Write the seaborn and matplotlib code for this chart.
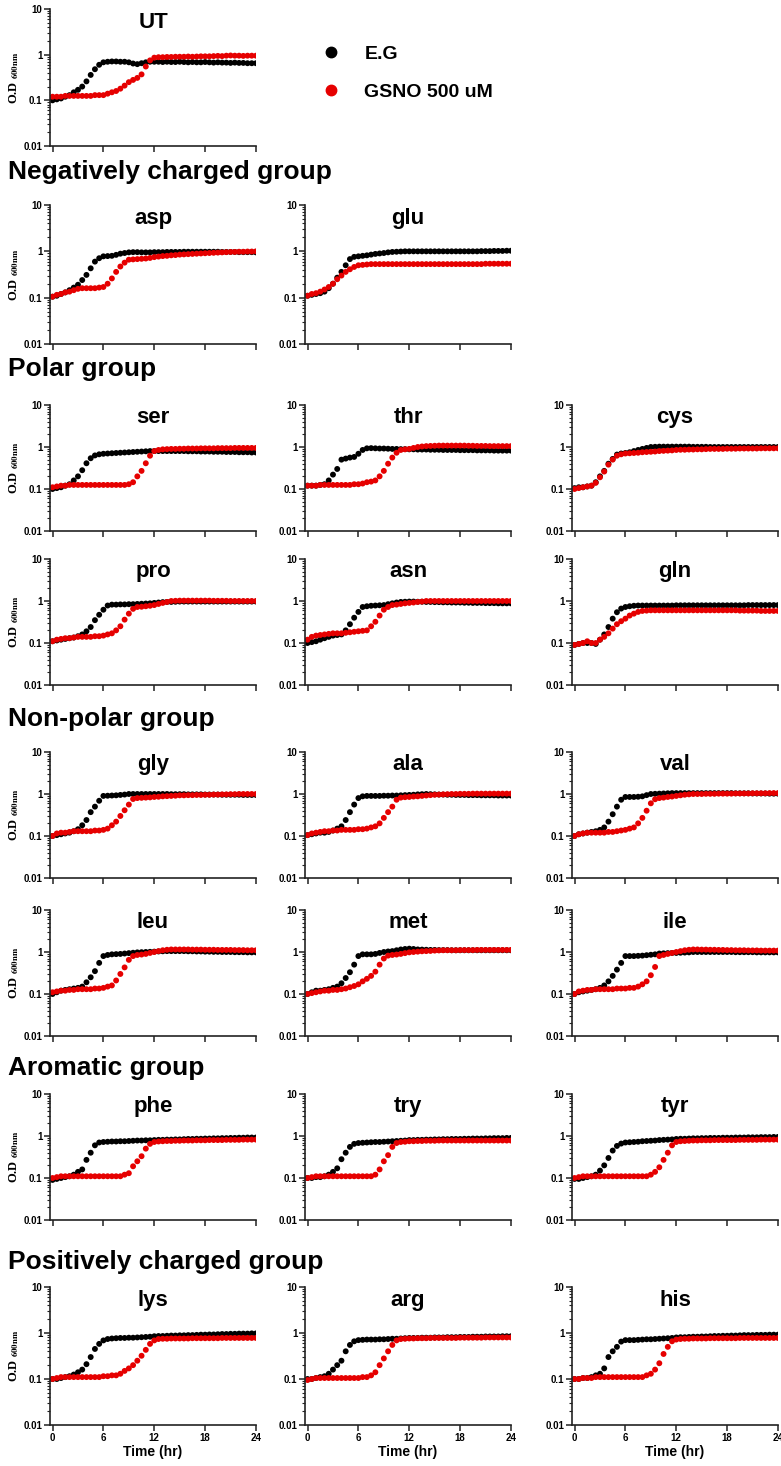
import numpy as np
import pandas as pd
import seaborn as sns
import matplotlib.pyplot as plt
from matplotlib.lines import Line2D

# OD600 readings every 30 min from 0 to 24 hr
time_hr = np.arange(0, 24.5, 0.5)

ut_eg = [0.10, 0.105, 0.11, 0.12, 0.13, 0.15, 0.17, 0.20, 0.26, 0.36, 0.48, 0.60,
         0.68, 0.70, 0.71, 0.71, 0.70, 0.70, 0.68, 0.64, 0.62, 0.65, 0.68, 0.70,
         0.70, 0.70, 0.69, 0.70, 0.69, 0.69, 0.70, 0.69, 0.68, 0.69, 0.68, 0.68,
         0.69, 0.68, 0.67, 0.68, 0.67, 0.67, 0.66, 0.67, 0.66, 0.66, 0.65, 0.65, 0.65]
ut_gsno = [0.12, 0.12, 0.12, 0.125, 0.125, 0.125, 0.125, 0.125, 0.125, 0.125, 0.13, 0.13,
           0.13, 0.14, 0.15, 0.16, 0.18, 0.21, 0.25, 0.28, 0.31, 0.37, 0.55, 0.75,
           0.86, 0.88, 0.88, 0.89, 0.89, 0.90, 0.90, 0.90, 0.91, 0.90, 0.91, 0.92,
           0.92, 0.92, 0.93, 0.94, 0.93, 0.95, 0.96, 0.95, 0.95, 0.94, 0.95, 0.95, 0.95]

asp_eg = [0.105, 0.11, 0.12, 0.13, 0.145, 0.165, 0.19, 0.24, 0.31, 0.43, 0.60, 0.71,
          0.78, 0.79, 0.80, 0.84, 0.89, 0.92, 0.95, 0.96, 0.96, 0.95, 0.95, 0.95,
          0.96, 0.96, 0.96, 0.97, 0.97, 0.97, 0.97, 0.98, 0.98, 0.98, 0.98, 0.98,
          0.98, 0.98, 0.98, 0.98, 0.97, 0.97, 0.97, 0.97, 0.96, 0.96, 0.96, 0.96, 0.95]
asp_gsno = [0.105, 0.115, 0.12, 0.13, 0.135, 0.145, 0.155, 0.16, 0.16, 0.16, 0.16, 0.165,
            0.17, 0.20, 0.26, 0.36, 0.47, 0.57, 0.66, 0.67, 0.68, 0.69, 0.70, 0.72,
            0.75, 0.77, 0.79, 0.80, 0.82, 0.83, 0.85, 0.86, 0.87, 0.88, 0.89, 0.90,
            0.91, 0.92, 0.93, 0.94, 0.95, 0.96, 0.97, 0.97, 0.98, 0.98, 0.99, 0.99, 1.0]

glu_eg = [0.11, 0.115, 0.12, 0.125, 0.135, 0.16, 0.20, 0.27, 0.36, 0.50, 0.68, 0.76,
          0.78, 0.80, 0.82, 0.85, 0.88, 0.90, 0.92, 0.95, 0.97, 0.98, 0.99, 1.0,
          1.0, 1.0, 1.0, 1.0, 1.0, 1.0, 1.0, 1.0, 1.0, 1.0, 1.0, 1.0,
          1.0, 1.0, 1.0, 1.0, 1.0, 1.01, 1.01, 1.01, 1.02, 1.02, 1.02, 1.03, 1.03]
glu_gsno = [0.11, 0.12, 0.125, 0.135, 0.15, 0.17, 0.20, 0.25, 0.30, 0.36, 0.41, 0.46,
            0.50, 0.51, 0.52, 0.53, 0.53, 0.53, 0.53, 0.53, 0.53, 0.53, 0.53, 0.53,
            0.53, 0.53, 0.53, 0.53, 0.53, 0.53, 0.53, 0.53, 0.53, 0.53, 0.53, 0.53,
            0.53, 0.53, 0.53, 0.53, 0.53, 0.53, 0.54, 0.54, 0.54, 0.54, 0.54, 0.54, 0.54]

ser_eg = [0.10, 0.105, 0.11, 0.12, 0.13, 0.16, 0.20, 0.28, 0.41, 0.54, 0.63, 0.67,
          0.69, 0.70, 0.71, 0.72, 0.73, 0.74, 0.75, 0.76, 0.77, 0.78, 0.79, 0.80,
          0.80, 0.80, 0.80, 0.80, 0.80, 0.80, 0.80, 0.80, 0.79, 0.79, 0.79, 0.78,
          0.78, 0.78, 0.77, 0.77, 0.77, 0.76, 0.76, 0.76, 0.75, 0.75, 0.75, 0.74, 0.74]
ser_gsno = [0.11, 0.115, 0.12, 0.12, 0.125, 0.125, 0.125, 0.125, 0.125, 0.125, 0.125, 0.125,
            0.125, 0.125, 0.125, 0.125, 0.125, 0.125, 0.13, 0.145, 0.20, 0.27, 0.41, 0.62,
            0.80, 0.85, 0.88, 0.89, 0.90, 0.90, 0.91, 0.91, 0.92, 0.92, 0.92, 0.93,
            0.93, 0.93, 0.93, 0.94, 0.94, 0.94, 0.94, 0.95, 0.95, 0.95, 0.95, 0.95, 0.95]

thr_eg = [0.12, 0.12, 0.12, 0.125, 0.13, 0.16, 0.22, 0.30, 0.50, 0.53, 0.56, 0.58,
          0.69, 0.85, 0.93, 0.94, 0.93, 0.92, 0.92, 0.91, 0.90, 0.90, 0.89, 0.89,
          0.88, 0.88, 0.87, 0.87, 0.87, 0.86, 0.86, 0.86, 0.85, 0.85, 0.85, 0.85,
          0.84, 0.84, 0.84, 0.84, 0.83, 0.83, 0.83, 0.83, 0.82, 0.82, 0.82, 0.82, 0.82]
thr_gsno = [0.12, 0.12, 0.12, 0.125, 0.125, 0.125, 0.125, 0.125, 0.125, 0.125, 0.125, 0.13,
            0.13, 0.135, 0.145, 0.15, 0.16, 0.20, 0.27, 0.40, 0.56, 0.73, 0.85, 0.88,
            0.90, 0.95, 1.0, 1.03, 1.05, 1.06, 1.07, 1.08, 1.08, 1.08, 1.08, 1.08,
            1.08, 1.08, 1.07, 1.07, 1.06, 1.06, 1.06, 1.05, 1.05, 1.05, 1.05, 1.05, 1.05]

cys_eg = [0.105, 0.11, 0.11, 0.115, 0.12, 0.145, 0.20, 0.27, 0.40, 0.52, 0.66, 0.70,
          0.72, 0.75, 0.80, 0.85, 0.90, 0.95, 1.0, 1.01, 1.02, 1.02, 1.02, 1.02,
          1.02, 1.02, 1.02, 1.02, 1.01, 1.01, 1.01, 1.01, 1.0, 1.0, 1.0, 1.0,
          1.0, 1.0, 1.0, 1.0, 1.0, 1.0, 1.0, 1.0, 1.0, 1.0, 1.0, 1.0, 1.0]
cys_gsno = [0.10, 0.105, 0.11, 0.115, 0.12, 0.14, 0.19, 0.26, 0.38, 0.50, 0.62, 0.67,
            0.70, 0.71, 0.72, 0.73, 0.75, 0.76, 0.77, 0.78, 0.80, 0.81, 0.82, 0.83,
            0.85, 0.86, 0.86, 0.87, 0.87, 0.88, 0.88, 0.89, 0.90, 0.90, 0.90, 0.90,
            0.91, 0.91, 0.91, 0.92, 0.92, 0.92, 0.92, 0.92, 0.93, 0.93, 0.93, 0.93, 0.93]

pro_eg = [0.11, 0.115, 0.12, 0.125, 0.13, 0.135, 0.145, 0.16, 0.19, 0.24, 0.35, 0.47,
          0.62, 0.78, 0.82, 0.82, 0.83, 0.83, 0.84, 0.84, 0.85, 0.86, 0.87, 0.88,
          0.90, 0.92, 0.94, 0.95, 0.95, 0.96, 0.97, 0.97, 0.97, 0.97, 0.97, 0.97,
          0.97, 0.97, 0.97, 0.97, 0.97, 0.97, 0.97, 0.97, 0.97, 0.97, 0.97, 0.97, 0.97]
pro_gsno = [0.11, 0.12, 0.125, 0.13, 0.13, 0.135, 0.14, 0.14, 0.14, 0.14, 0.145, 0.145,
            0.15, 0.16, 0.17, 0.20, 0.25, 0.36, 0.50, 0.65, 0.72, 0.73, 0.75, 0.77,
            0.80, 0.85, 0.90, 0.95, 1.0, 1.01, 1.02, 1.02, 1.02, 1.02, 1.02, 1.02,
            1.02, 1.02, 1.01, 1.01, 1.01, 1.01, 1.0, 1.0, 1.0, 1.0, 1.0, 1.0, 1.0]

asn_eg = [0.10, 0.105, 0.11, 0.12, 0.13, 0.14, 0.15, 0.155, 0.16, 0.20, 0.28, 0.40,
          0.55, 0.72, 0.75, 0.77, 0.78, 0.79, 0.80, 0.84, 0.88, 0.92, 0.95, 0.96,
          0.97, 0.97, 0.96, 0.96, 0.95, 0.95, 0.94, 0.94, 0.93, 0.93, 0.92, 0.92,
          0.92, 0.91, 0.91, 0.90, 0.90, 0.90, 0.89, 0.89, 0.89, 0.88, 0.88, 0.88, 0.88]
asn_gsno = [0.12, 0.14, 0.15, 0.155, 0.16, 0.165, 0.17, 0.17, 0.17, 0.175, 0.18, 0.185,
            0.19, 0.195, 0.20, 0.25, 0.32, 0.45, 0.62, 0.72, 0.80, 0.82, 0.85, 0.88,
            0.90, 0.92, 0.95, 0.97, 1.0, 1.0, 1.0, 1.0, 1.0, 1.0, 1.0, 1.0,
            1.0, 1.0, 1.0, 1.0, 1.0, 1.0, 1.0, 1.0, 1.0, 1.0, 1.0, 1.0, 1.0]

gln_eg = [0.09, 0.095, 0.10, 0.10, 0.10, 0.095, 0.12, 0.16, 0.24, 0.38, 0.54, 0.66,
          0.72, 0.75, 0.77, 0.78, 0.78, 0.78, 0.78, 0.78, 0.78, 0.78, 0.78, 0.78,
          0.79, 0.79, 0.79, 0.79, 0.79, 0.79, 0.79, 0.79, 0.79, 0.79, 0.79, 0.79,
          0.79, 0.79, 0.79, 0.79, 0.79, 0.80, 0.80, 0.80, 0.80, 0.80, 0.80, 0.80, 0.80]
gln_gsno = [0.09, 0.095, 0.10, 0.11, 0.10, 0.10, 0.12, 0.14, 0.17, 0.22, 0.28, 0.33,
            0.38, 0.45, 0.50, 0.55, 0.58, 0.59, 0.60, 0.60, 0.60, 0.60, 0.60, 0.60,
            0.60, 0.60, 0.60, 0.60, 0.60, 0.60, 0.60, 0.60, 0.60, 0.60, 0.60, 0.60,
            0.60, 0.60, 0.60, 0.59, 0.59, 0.59, 0.59, 0.59, 0.58, 0.58, 0.58, 0.58, 0.58]

gly_eg = [0.10, 0.105, 0.11, 0.115, 0.12, 0.13, 0.145, 0.18, 0.24, 0.37, 0.50, 0.69,
          0.90, 0.91, 0.92, 0.93, 0.95, 0.97, 1.0, 1.0, 1.0, 1.0, 1.0, 1.0,
          1.0, 1.0, 1.0, 1.0, 0.99, 0.99, 0.99, 0.99, 0.98, 0.98, 0.98, 0.98,
          0.97, 0.97, 0.97, 0.97, 0.96, 0.96, 0.96, 0.96, 0.96, 0.95, 0.95, 0.95, 0.95]
gly_gsno = [0.10, 0.115, 0.12, 0.12, 0.125, 0.13, 0.13, 0.13, 0.13, 0.13, 0.135, 0.135,
            0.14, 0.15, 0.18, 0.22, 0.30, 0.41, 0.56, 0.76, 0.80, 0.81, 0.82, 0.83,
            0.85, 0.86, 0.88, 0.89, 0.90, 0.91, 0.93, 0.93, 0.94, 0.94, 0.95, 0.95,
            0.96, 0.96, 0.97, 0.97, 0.98, 0.98, 0.99, 0.99, 1.0, 1.0, 1.0, 1.0, 1.0]

ala_eg = [0.105, 0.11, 0.115, 0.12, 0.12, 0.125, 0.135, 0.15, 0.17, 0.24, 0.37, 0.56,
          0.80, 0.88, 0.90, 0.90, 0.90, 0.90, 0.91, 0.91, 0.92, 0.92, 0.93, 0.94,
          0.95, 0.96, 0.98, 0.99, 1.0, 0.99, 0.98, 0.97, 0.97, 0.96, 0.96, 0.95,
          0.95, 0.95, 0.94, 0.94, 0.94, 0.93, 0.93, 0.93, 0.93, 0.92, 0.92, 0.92, 0.92]
ala_gsno = [0.105, 0.115, 0.12, 0.125, 0.13, 0.13, 0.135, 0.135, 0.14, 0.14, 0.14, 0.14,
            0.145, 0.145, 0.15, 0.16, 0.17, 0.20, 0.27, 0.37, 0.50, 0.73, 0.82, 0.84,
            0.85, 0.87, 0.88, 0.90, 0.92, 0.94, 0.96, 0.97, 0.98, 0.99, 1.0, 1.0,
            1.01, 1.01, 1.01, 1.02, 1.02, 1.02, 1.02, 1.02, 1.02, 1.02, 1.02, 1.02, 1.02]

val_eg = [0.10, 0.11, 0.115, 0.12, 0.125, 0.13, 0.14, 0.16, 0.22, 0.33, 0.50, 0.73,
          0.85, 0.85, 0.85, 0.86, 0.88, 0.94, 1.0, 1.01, 1.02, 1.03, 1.04, 1.05,
          1.05, 1.05, 1.05, 1.05, 1.05, 1.05, 1.05, 1.05, 1.05, 1.05, 1.05, 1.05,
          1.05, 1.05, 1.04, 1.04, 1.04, 1.04, 1.03, 1.03, 1.03, 1.03, 1.02, 1.02, 1.02]
val_gsno = [0.10, 0.11, 0.115, 0.12, 0.12, 0.12, 0.12, 0.12, 0.125, 0.125, 0.13, 0.135,
            0.14, 0.15, 0.16, 0.20, 0.27, 0.40, 0.60, 0.75, 0.80, 0.82, 0.85, 0.87,
            0.90, 0.93, 0.96, 0.98, 1.0, 1.0, 1.0, 1.01, 1.01, 1.01, 1.02, 1.02,
            1.02, 1.02, 1.03, 1.03, 1.03, 1.03, 1.04, 1.04, 1.04, 1.04, 1.05, 1.05, 1.05]

leu_eg = [0.10, 0.11, 0.12, 0.125, 0.13, 0.135, 0.14, 0.15, 0.19, 0.25, 0.35, 0.55,
          0.80, 0.85, 0.88, 0.89, 0.90, 0.92, 0.94, 0.96, 0.98, 0.99, 1.0, 1.01,
          1.02, 1.03, 1.04, 1.05, 1.05, 1.05, 1.05, 1.05, 1.04, 1.04, 1.03, 1.03,
          1.02, 1.02, 1.01, 1.01, 1.0, 1.0, 1.0, 0.99, 0.99, 0.99, 0.98, 0.98, 0.98]
leu_gsno = [0.11, 0.115, 0.12, 0.12, 0.125, 0.125, 0.13, 0.13, 0.13, 0.13, 0.135, 0.135,
            0.14, 0.15, 0.16, 0.21, 0.30, 0.43, 0.65, 0.80, 0.85, 0.87, 0.90, 0.95,
            1.0, 1.05, 1.10, 1.13, 1.15, 1.15, 1.15, 1.15, 1.15, 1.14, 1.14, 1.14,
            1.13, 1.13, 1.13, 1.12, 1.12, 1.12, 1.12, 1.11, 1.11, 1.11, 1.10, 1.10, 1.10]

met_eg = [0.10, 0.11, 0.12, 0.12, 0.125, 0.13, 0.14, 0.15, 0.18, 0.24, 0.33, 0.50,
          0.80, 0.88, 0.88, 0.88, 0.90, 0.95, 1.0, 1.03, 1.05, 1.10, 1.15, 1.18,
          1.20, 1.18, 1.15, 1.14, 1.13, 1.12, 1.12, 1.11, 1.11, 1.11, 1.10, 1.10,
          1.10, 1.10, 1.10, 1.10, 1.10, 1.10, 1.10, 1.10, 1.10, 1.10, 1.10, 1.10, 1.10]
met_gsno = [0.10, 0.105, 0.11, 0.115, 0.12, 0.12, 0.125, 0.125, 0.13, 0.135, 0.145, 0.155,
            0.17, 0.20, 0.23, 0.27, 0.34, 0.50, 0.70, 0.82, 0.85, 0.87, 0.90, 0.94,
            0.98, 1.0, 1.02, 1.04, 1.05, 1.06, 1.08, 1.09, 1.10, 1.10, 1.10, 1.10,
            1.11, 1.11, 1.11, 1.11, 1.12, 1.12, 1.12, 1.12, 1.12, 1.12, 1.12, 1.12, 1.12]

ile_eg = [0.10, 0.11, 0.115, 0.12, 0.125, 0.13, 0.14, 0.16, 0.20, 0.27, 0.38, 0.55,
          0.80, 0.80, 0.80, 0.81, 0.82, 0.84, 0.86, 0.88, 0.92, 0.93, 0.94, 0.95,
          0.95, 0.96, 0.97, 0.98, 1.0, 1.0, 1.0, 1.0, 1.0, 1.0, 1.0, 1.0,
          1.0, 1.0, 0.99, 0.99, 0.99, 0.99, 0.99, 0.98, 0.98, 0.98, 0.98, 0.98, 0.98]
ile_gsno = [0.10, 0.115, 0.12, 0.125, 0.125, 0.13, 0.13, 0.13, 0.13, 0.13, 0.135, 0.135,
            0.135, 0.14, 0.14, 0.15, 0.17, 0.20, 0.28, 0.44, 0.80, 0.85, 0.90, 0.95,
            1.0, 1.05, 1.10, 1.13, 1.15, 1.15, 1.14, 1.14, 1.13, 1.13, 1.12, 1.12,
            1.11, 1.11, 1.10, 1.10, 1.10, 1.09, 1.09, 1.09, 1.08, 1.08, 1.08, 1.08, 1.08]

phe_eg = [0.09, 0.095, 0.10, 0.105, 0.11, 0.12, 0.14, 0.16, 0.27, 0.40, 0.60, 0.70,
          0.72, 0.73, 0.74, 0.74, 0.75, 0.75, 0.76, 0.77, 0.78, 0.78, 0.79, 0.79,
          0.80, 0.81, 0.81, 0.82, 0.82, 0.83, 0.83, 0.84, 0.85, 0.85, 0.86, 0.86,
          0.87, 0.87, 0.88, 0.88, 0.89, 0.89, 0.90, 0.90, 0.91, 0.91, 0.92, 0.92, 0.92]
phe_gsno = [0.10, 0.105, 0.11, 0.11, 0.11, 0.11, 0.11, 0.11, 0.11, 0.11, 0.11, 0.11,
            0.11, 0.11, 0.11, 0.11, 0.11, 0.12, 0.13, 0.19, 0.25, 0.33, 0.50, 0.65,
            0.72, 0.74, 0.75, 0.76, 0.76, 0.77, 0.77, 0.78, 0.78, 0.78, 0.79, 0.79,
            0.79, 0.80, 0.80, 0.80, 0.80, 0.81, 0.81, 0.81, 0.81, 0.82, 0.82, 0.82, 0.82]

try_eg = [0.10, 0.10, 0.105, 0.105, 0.11, 0.12, 0.14, 0.17, 0.28, 0.40, 0.55, 0.65,
          0.68, 0.69, 0.70, 0.71, 0.72, 0.72, 0.73, 0.74, 0.75, 0.76, 0.77, 0.78,
          0.80, 0.80, 0.81, 0.81, 0.82, 0.82, 0.83, 0.83, 0.84, 0.84, 0.85, 0.85,
          0.85, 0.86, 0.86, 0.87, 0.87, 0.87, 0.88, 0.88, 0.89, 0.89, 0.89, 0.90, 0.90]
try_gsno = [0.10, 0.105, 0.11, 0.11, 0.11, 0.11, 0.11, 0.11, 0.11, 0.11, 0.11, 0.11,
            0.11, 0.11, 0.11, 0.11, 0.12, 0.16, 0.25, 0.35, 0.55, 0.68, 0.72, 0.73,
            0.75, 0.75, 0.76, 0.76, 0.77, 0.77, 0.77, 0.78, 0.78, 0.78, 0.78, 0.78,
            0.78, 0.78, 0.78, 0.78, 0.78, 0.78, 0.78, 0.78, 0.78, 0.78, 0.78, 0.78, 0.78]

tyr_eg = [0.095, 0.095, 0.10, 0.105, 0.11, 0.12, 0.15, 0.20, 0.30, 0.45, 0.58, 0.66,
          0.70, 0.71, 0.72, 0.73, 0.75, 0.76, 0.77, 0.78, 0.80, 0.81, 0.82, 0.83,
          0.85, 0.86, 0.86, 0.87, 0.88, 0.88, 0.89, 0.89, 0.90, 0.90, 0.90, 0.91,
          0.91, 0.91, 0.92, 0.92, 0.92, 0.93, 0.93, 0.93, 0.94, 0.94, 0.94, 0.95, 0.95]
tyr_gsno = [0.10, 0.105, 0.11, 0.11, 0.11, 0.11, 0.11, 0.11, 0.11, 0.11, 0.11, 0.11,
            0.11, 0.11, 0.11, 0.11, 0.11, 0.11, 0.12, 0.14, 0.18, 0.27, 0.40, 0.60,
            0.72, 0.75, 0.76, 0.77, 0.78, 0.78, 0.79, 0.79, 0.79, 0.80, 0.80, 0.80,
            0.80, 0.80, 0.80, 0.81, 0.81, 0.81, 0.81, 0.81, 0.82, 0.82, 0.82, 0.82, 0.82]

lys_eg = [0.10, 0.10, 0.105, 0.11, 0.115, 0.125, 0.14, 0.16, 0.21, 0.30, 0.45, 0.58,
          0.69, 0.74, 0.76, 0.77, 0.78, 0.78, 0.79, 0.79, 0.80, 0.81, 0.82, 0.83,
          0.85, 0.86, 0.86, 0.87, 0.88, 0.88, 0.89, 0.89, 0.90, 0.90, 0.91, 0.92,
          0.92, 0.93, 0.93, 0.94, 0.95, 0.95, 0.96, 0.96, 0.97, 0.97, 0.97, 0.98, 0.98]
lys_gsno = [0.10, 0.105, 0.11, 0.11, 0.11, 0.11, 0.11, 0.11, 0.11, 0.11, 0.11, 0.11,
            0.115, 0.115, 0.12, 0.12, 0.13, 0.15, 0.17, 0.20, 0.25, 0.32, 0.43, 0.58,
            0.69, 0.74, 0.75, 0.75, 0.76, 0.76, 0.76, 0.76, 0.76, 0.77, 0.77, 0.77,
            0.77, 0.77, 0.77, 0.77, 0.78, 0.78, 0.78, 0.78, 0.78, 0.78, 0.78, 0.78, 0.78]

arg_eg = [0.10, 0.10, 0.105, 0.11, 0.115, 0.13, 0.16, 0.20, 0.25, 0.40, 0.55, 0.66,
          0.70, 0.71, 0.72, 0.72, 0.72, 0.73, 0.73, 0.74, 0.75, 0.75, 0.76, 0.77,
          0.78, 0.78, 0.78, 0.79, 0.79, 0.79, 0.80, 0.80, 0.80, 0.81, 0.81, 0.81,
          0.82, 0.82, 0.82, 0.83, 0.83, 0.83, 0.84, 0.84, 0.84, 0.84, 0.85, 0.85, 0.85]
arg_gsno = [0.095, 0.10, 0.105, 0.105, 0.105, 0.105, 0.105, 0.105, 0.105, 0.105, 0.105, 0.105,
            0.105, 0.11, 0.11, 0.12, 0.14, 0.20, 0.28, 0.40, 0.55, 0.69, 0.74, 0.75,
            0.76, 0.76, 0.77, 0.77, 0.77, 0.78, 0.78, 0.78, 0.78, 0.78, 0.78, 0.78,
            0.79, 0.79, 0.79, 0.79, 0.79, 0.79, 0.80, 0.80, 0.80, 0.80, 0.80, 0.80, 0.80]

his_eg = [0.10, 0.10, 0.105, 0.105, 0.11, 0.12, 0.13, 0.17, 0.30, 0.40, 0.50, 0.65,
          0.70, 0.70, 0.70, 0.71, 0.72, 0.73, 0.73, 0.74, 0.75, 0.76, 0.77, 0.78,
          0.80, 0.81, 0.81, 0.82, 0.83, 0.83, 0.84, 0.84, 0.85, 0.86, 0.86, 0.87,
          0.87, 0.88, 0.88, 0.89, 0.90, 0.90, 0.90, 0.91, 0.91, 0.91, 0.92, 0.92, 0.92]
his_gsno = [0.10, 0.10, 0.105, 0.105, 0.105, 0.11, 0.11, 0.11, 0.11, 0.11, 0.11, 0.11,
            0.11, 0.11, 0.11, 0.11, 0.11, 0.12, 0.13, 0.16, 0.22, 0.35, 0.50, 0.66,
            0.72, 0.74, 0.75, 0.75, 0.76, 0.76, 0.76, 0.76, 0.77, 0.77, 0.77, 0.77,
            0.77, 0.77, 0.77, 0.78, 0.78, 0.78, 0.78, 0.78, 0.78, 0.78, 0.78, 0.78, 0.78]

# panel name, E.G series, GSNO series, row, column
panels = [
    ("UT", ut_eg, ut_gsno, 0, 0),
    ("asp", asp_eg, asp_gsno, 1, 0), ("glu", glu_eg, glu_gsno, 1, 1),
    ("ser", ser_eg, ser_gsno, 2, 0), ("thr", thr_eg, thr_gsno, 2, 1), ("cys", cys_eg, cys_gsno, 2, 2),
    ("pro", pro_eg, pro_gsno, 3, 0), ("asn", asn_eg, asn_gsno, 3, 1), ("gln", gln_eg, gln_gsno, 3, 2),
    ("gly", gly_eg, gly_gsno, 4, 0), ("ala", ala_eg, ala_gsno, 4, 1), ("val", val_eg, val_gsno, 4, 2),
    ("leu", leu_eg, leu_gsno, 5, 0), ("met", met_eg, met_gsno, 5, 1), ("ile", ile_eg, ile_gsno, 5, 2),
    ("phe", phe_eg, phe_gsno, 6, 0), ("try", try_eg, try_gsno, 6, 1), ("tyr", tyr_eg, tyr_gsno, 6, 2),
    ("lys", lys_eg, lys_gsno, 7, 0), ("arg", arg_eg, arg_gsno, 7, 1), ("his", his_eg, his_gsno, 7, 2),
]
group_titles = ["Negatively charged group", "Polar group", "Non-polar group",
                "Aromatic group", "Positively charged group"]
conditions = ["E.G", "GSNO 500 uM"]
colors = {"E.G": "#000000", "GSNO 500 uM": "#e60000"}

sns.set_style("ticks")
plt.rcParams['font.family'] = ['Liberation Sans', 'DejaVu Sans']
plt.rcParams['font.weight'] = 'bold'
plt.rcParams['mathtext.fontset'] = 'stix'
plt.rcParams['text.color'] = 'black'
plt.rcParams['axes.labelcolor'] = 'black'
plt.rcParams['xtick.color'] = 'black'
plt.rcParams['ytick.color'] = 'black'

W, H = 781, 1466
fig = plt.figure(figsize=(W / 100, H / 100), dpi=100)

# layout in pixels
col_left = [50, 305, 572]
ax_w = 206
row_top = [9, 205, 405, 559, 752, 910, 1094, 1287]
row_h = [137, 139, 126, 126, 126, 126, 126, 138]
title_y = [172, 369, 719, 1068, 1262]

for name, eg, gsno, r, c in panels:
    ax = fig.add_axes([col_left[c] / W, 1 - (row_top[r] + row_h[r]) / H, ax_w / W, row_h[r] / H])
    df = pd.DataFrame({
        "time": np.concatenate([time_hr, time_hr]),
        "od": np.concatenate([eg, gsno]),
        "cond": np.repeat(conditions, len(time_hr)),
    })
    sns.scatterplot(data=df, x="time", y="od", hue="cond", palette=colors,
                    s=18, linewidth=0, legend=False, ax=ax)
    ax.set_yscale("log")
    ax.set_ylim(0.01, 10)
    ax.set_xlim(-0.3, 24)
    ax.set_xticks([0, 6, 12, 18, 24])
    ax.set_yticks([0.01, 0.1, 1, 10])
    ax.set_yticklabels(["0.01", "0.1", "1", "10"])
    ax.tick_params(axis="both", which="major", length=4, width=1.1, labelsize=7, pad=1.5, color="#222222")
    ax.tick_params(axis="y", which="minor", length=2, width=0.8, color="#222222")
    ax.tick_params(axis="x", which="minor", length=0)
    for lab in ax.get_xticklabels() + ax.get_yticklabels():
        lab.set_fontweight("bold")
    for side in ["top", "right"]:
        ax.spines[side].set_visible(False)
    for side in ["left", "bottom"]:
        ax.spines[side].set_linewidth(1.2)
        ax.spines[side].set_color("#222222")
    ax.set_xlabel("")
    ax.set_ylabel("")
    if r == 7:
        ax.set_xlabel("Time (hr)", fontsize=10, fontweight="bold", labelpad=2)
    else:
        ax.set_xticklabels([])
    if c == 0:
        ax.set_ylabel(r"O.D $_{\mathbf{600nm}}$", fontsize=9, fontweight="bold",
                      fontfamily=["Liberation Serif", "DejaVu Serif"])
        ax.yaxis.set_label_coords(-0.14, 0.5)
    ax.text(0.5, 0.9, name, transform=ax.transAxes, ha="center", va="center",
            fontsize=16, fontweight="bold")

for text, y in zip(group_titles, title_y):
    fig.text(8 / W, 1 - y / H, text, ha="left", va="center", fontsize=19, fontweight="bold")

handles = [Line2D([], [], linestyle="none", marker="o", markersize=7.5,
                  markerfacecolor=colors[k], markeredgecolor=colors[k]) for k in conditions]
fig.legend(handles, conditions, loc="upper left", bbox_to_anchor=(304 / W, 1 - 28 / H),
           frameon=False, handlelength=1.0, handletextpad=1.2,
           labelspacing=1.05, prop={"weight": "bold", "size": 14})

fig.savefig("out.png", dpi=100)
